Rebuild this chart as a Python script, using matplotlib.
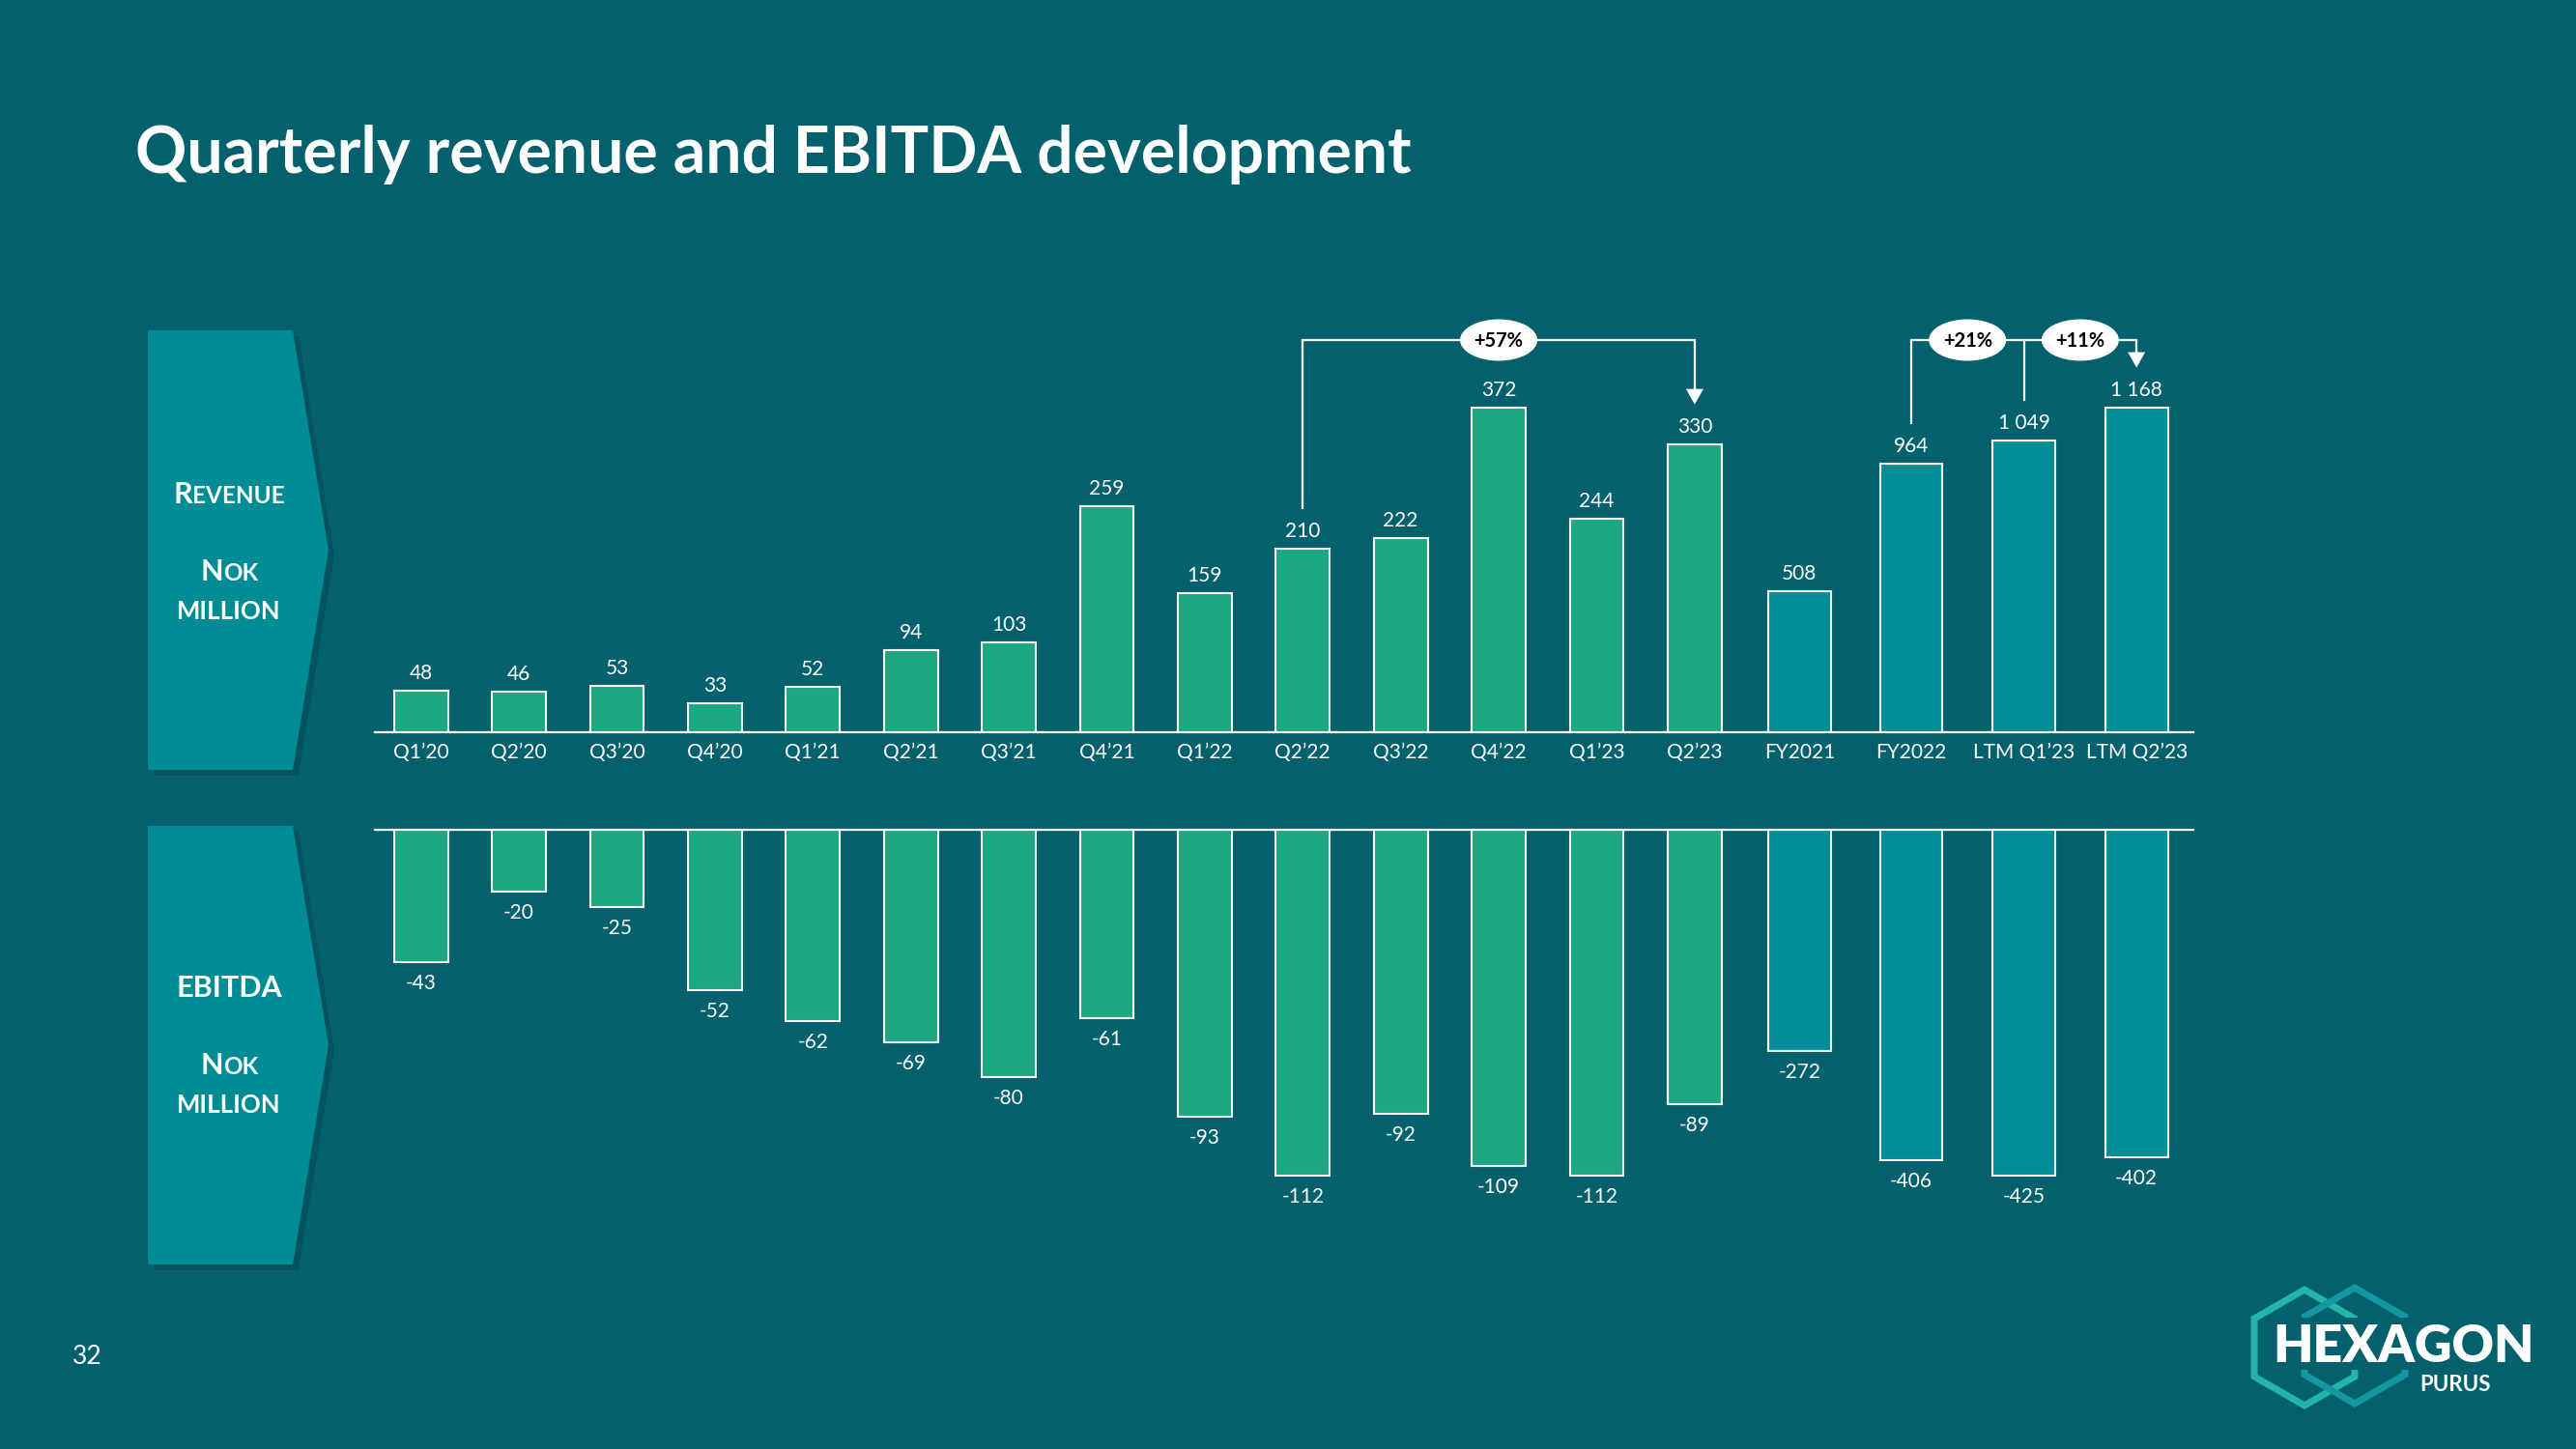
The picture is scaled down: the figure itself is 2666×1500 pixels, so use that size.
import numpy as np
import matplotlib.pyplot as plt
import matplotlib.patches as patches
from matplotlib.lines import Line2D

plt.rcParams['font.family'] = ['Lato', 'DejaVu Sans']

# ---- data ----
quarters = ["Q1’20", "Q2’20", "Q3’20", "Q4’20", "Q1’21", "Q2’21", "Q3’21",
            "Q4’21", "Q1’22", "Q2’22", "Q3’22", "Q4’22", "Q1’23", "Q2’23"]
revenue_q = [48, 46, 53, 33, 52, 94, 103, 259, 159, 210, 222, 372, 244, 330]
ebitda_q = [-43, -20, -25, -52, -62, -69, -80, -61, -93, -112, -92, -109, -112, -89]

periods = ["FY2021", "FY2022", "LTM Q1’23", "LTM Q2’23"]
revenue_fy = [508, 964, 1049, 1168]
ebitda_fy = [-272, -406, -425, -402]

growth_labels = ["+57%", "+21%", "+11%"]

# ---- style ----
BG = '#03606D'
GREEN = '#1CA882'
TEAL = '#008F98'
BOX = '#008C95'
SHADOW = '#014E59'
W, H = 2666, 1500

fig = plt.figure(figsize=(W / 100, H / 100), dpi=100, facecolor=BG)


def fx(x):
    return x / W


def fy(y):
    return 1 - y / H


def rect(left, top, right, bottom):
    return [fx(left), fy(bottom), (right - left) / W, (bottom - top) / H]


def fmt(v):
    return f"{v:,}".replace(",", " ")


x_q = np.arange(len(quarters))
x_fy = np.array([14.07, 15.21, 16.36, 17.51])

# ---- revenue panel ----
ax_r = fig.add_axes(rect(388, 300, 2270, 758))
ax_r2 = ax_r.twinx()
ax_r.set_xlim(-0.47, 18.09)
ax_r.set_ylim(0, 506.6)
ax_r2.set_ylim(0, 1590)

# ---- ebitda panel ----
ax_e = fig.add_axes(rect(388, 858.5, 2270, 1290))
ax_e2 = ax_e.twinx()
ax_e.set_xlim(-0.47, 18.09)
ax_e.set_ylim(-134.8, 0)
ax_e2.set_ylim(-511.5, 0)

for a in (ax_r, ax_r2, ax_e, ax_e2):
    a.set_facecolor('none')
    for s in a.spines.values():
        s.set_visible(False)
    a.set_yticks([])

ax_r.spines['bottom'].set_visible(True)
ax_r.spines['bottom'].set_color('white')
ax_r.spines['bottom'].set_linewidth(1.6)
ax_e.spines['top'].set_visible(True)
ax_e.spines['top'].set_color('white')
ax_e.spines['top'].set_linewidth(1.6)

ax_r.set_xticks(np.concatenate([x_q, x_fy]), quarters + periods)
ax_r.tick_params(axis='x', length=0, pad=8, labelsize=15, labelcolor='white')
ax_e.set_xticks([])

bar_kw = dict(edgecolor='white', linewidth=1.5, zorder=3)
ax_r.bar(x_q, revenue_q, width=0.55, color=GREEN, **bar_kw)
ax_r2.bar(x_fy, revenue_fy, width=0.64, color=TEAL, **bar_kw)
ax_e.bar(x_q, ebitda_q, width=0.55, color=GREEN, **bar_kw)
ax_e2.bar(x_fy, ebitda_fy, width=0.64, color=TEAL, **bar_kw)

lab_kw = dict(textcoords='offset pixels', ha='center', va='baseline',
              color='white', fontsize=15)
for a, xs, vals in ((ax_r, x_q, revenue_q), (ax_r2, x_fy, revenue_fy)):
    for x, v in zip(xs, vals):
        a.annotate(fmt(v), (x, v), xytext=(0, 12), **lab_kw)
for a, xs, vals in ((ax_e, x_q, ebitda_q), (ax_e2, x_fy, ebitda_fy)):
    for x, v in zip(xs, vals):
        a.annotate(fmt(v), (x, v), xytext=(0, -28), **lab_kw)

# ---- growth brackets ----
BR_Y = 352
RISE = 41


def top_of(a, x, v):
    px, py = a.transData.transform((x, v))
    return px, H - py


def line(xs, ys):
    fig.add_artist(Line2D([fx(x) for x in xs], [fy(y) for y in ys],
                          color='white', lw=1.6, transform=fig.transFigure,
                          solid_capstyle='butt', solid_joinstyle='miter', zorder=5))


def arrow_head(x, tip):
    pts = [(fx(x), fy(tip)), (fx(x - 9), fy(tip - 16)), (fx(x + 9), fy(tip - 16))]
    fig.add_artist(patches.Polygon(pts, closed=True, fc='white', ec='none',
                                   transform=fig.transFigure, zorder=5))


def pill(cx, text):
    fig.add_artist(patches.Ellipse((fx(cx), fy(BR_Y)), 80 / W, 43 / H, fc='white',
                                   ec='none', transform=fig.transFigure, zorder=6))
    fig.text(fx(cx), fy(BR_Y + 1), text, ha='center', va='center', fontsize=14.5,
             weight='bold', color='black', zorder=7)


# Q2'22 -> Q2'23
x0, y0 = top_of(ax_r, x_q[9], revenue_q[9])
x1, y1 = top_of(ax_r, x_q[13], revenue_q[13])
line([x0, x0, x1, x1], [y0 - RISE, BR_Y, BR_Y, y1 - RISE - 15])
arrow_head(x1, y1 - RISE)
pill((x0 + x1) / 2, growth_labels[0])

# FY2022 -> LTM Q1'23 -> LTM Q2'23
xa, ya = top_of(ax_r2, x_fy[1], revenue_fy[1])
xb, yb = top_of(ax_r2, x_fy[2], revenue_fy[2])
xc, yc = top_of(ax_r2, x_fy[3], revenue_fy[3])
line([xa, xa, xc, xc], [ya - RISE, BR_Y, BR_Y, yc - RISE - 15])
line([xb, xb], [yb - RISE, BR_Y])
arrow_head(xc, yc - RISE)
pill((xa + xb) / 2, growth_labels[1])
pill((xb + xc) / 2, growth_labels[2])

# ---- title ----
fig.text(fx(140), fy(160), "Quarterly revenue and EBITDA development",
         fontsize=47.5, weight='bold', color='white', va='center')


# ---- side chevrons ----
def chevron(top, bottom):
    mid = (top + bottom) / 2
    pts = [(153, top), (303, top), (340, mid), (303, bottom), (153, bottom)]
    shadow = [(fx(x + 6), fy(y + 6)) for x, y in pts]
    fig.add_artist(patches.Polygon(shadow, closed=True, fc=SHADOW, ec='none',
                                   alpha=0.7, transform=fig.transFigure, zorder=1))
    fig.add_artist(patches.Polygon([(fx(x), fy(y)) for x, y in pts], closed=True,
                                   fc=BOX, ec='none', transform=fig.transFigure, zorder=2))


renderer = fig.canvas.get_renderer()


def caps_text(cx, base, pieces):
    # pieces: list of (text, size) drawn side by side, centred on cx
    texts = [fig.text(0, 0, t, fontsize=s, weight='bold', color='white',
                      va='baseline', zorder=3) for t, s in pieces]
    widths = [t.get_window_extent(renderer).width for t in texts]
    x = cx - sum(widths) / 2
    for t, w in zip(texts, widths):
        t.set_position((fx(x), fy(base)))
        x += w


chevron(342, 797)
chevron(855, 1309)
BIG, SMALL, MID = 22, 17.5, 18.5
caps_text(237, 521, [("R", BIG), ("EVENUE", SMALL)])
caps_text(237, 601, [("N", BIG), ("OK", SMALL)])
caps_text(237, 641, [("MILLION", MID)])
caps_text(237, 1032, [("EBITDA", BIG)])
caps_text(237, 1112, [("N", BIG), ("OK", SMALL)])
caps_text(237, 1152, [("MILLION", MID)])

# ---- page number ----
fig.text(fx(90), fy(1404), "32", fontsize=19, color='white', ha='center', va='center')


# ---- logo ----
def hexagon(cx, cy, r, color):
    ang = np.radians(90 + 60 * np.arange(6))
    pts = [(fx(cx + r * np.cos(t)), fy(cy - r * np.sin(t))) for t in ang]
    fig.add_artist(patches.Polygon(pts, closed=True, fill=False, ec=color, lw=5,
                                   joinstyle='miter', transform=fig.transFigure, zorder=1))


hexagon(2385, 1395, 60, '#22B5A8')
hexagon(2437, 1393, 60, '#1497A0')
fig.add_artist(patches.Rectangle((fx(2347), fy(1418)), (2628 - 2347) / W, 54 / H,
                                 fc=BG, ec='none', transform=fig.transFigure, zorder=2))
fig.text(fx(2352), fy(1410), "HEXAGON", fontsize=38.5, weight='heavy', color='white',
         va='baseline', zorder=3)
fig.text(fx(2578), fy(1440), "PURUS", fontsize=16, weight='bold', color='white',
         va='baseline', ha='right', zorder=3)

fig.savefig('out.png', dpi=100, facecolor=BG)
